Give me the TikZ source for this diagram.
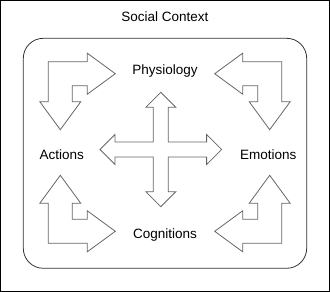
\documentclass[tikz,border=0pt]{standalone}
\usepackage{fontspec}
\setmainfont{Liberation Sans}
\usetikzlibrary{positioning}

\begin{document}
\begin{tikzpicture}[
  x=1pt, y=-1pt,
  lbl/.style={font=\fontsize{13.5}{16}\selectfont, inner sep=0pt},
  shp/.style={draw=black!60, line width=0.8pt, fill=white, line join=miter},
  bent/.pic={
    \draw[shp] (0,0) -- (39,0) -- (39,-8.5) -- (67,12) -- (39,32.5) -- (39,24)
      -- (24,24) -- (24,40) -- (32.5,40) -- (12,68) -- (-8.5,40) -- (0,40) -- cycle;
  }
]
\useasboundingbox (0,0) rectangle (330,292);
\draw[black, line width=1.2pt] (0.6,0.6) rectangle (329.4,291.4);

\node[lbl] (title) at (165,16.7) {Social Context};
\node[draw=black!80, line width=0.8pt, rounded corners=20pt,
      minimum width=283.4pt, minimum height=230pt] (frame) at (165,153.3) {};

% corner arrows
\pic at (48.3,61.7) {bent};
\pic[xscale=-1] at (281.7,61.7) {bent};
\pic[yscale=-1] at (48.3,243.3) {bent};
\pic[xscale=-1, yscale=-1] at (281.7,243.3) {bent};

% cross in the middle
\draw[shp, shift={(160.8,149.5)}]
  (0,-57.2) -- (15,-42.2) -- (7.5,-42.2) -- (7.5,-7.5) -- (45.8,-7.5) -- (45.8,-15)
  -- (60.8,0) -- (45.8,15) -- (45.8,7.5) -- (7.5,7.5) -- (7.5,42.2) -- (15,42.2)
  -- (0,57.2) -- (-15,42.2) -- (-7.5,42.2) -- (-7.5,7.5) -- (-45.8,7.5) -- (-45.8,15)
  -- (-60.8,0) -- (-45.8,-15) -- (-45.8,-7.5) -- (-7.5,-7.5) -- (-7.5,-42.2)
  -- (-15,-42.2) -- cycle;

\node[lbl] (phys) at (165,70.7) {Physiology};
\node[lbl] (act)  at (61.7,155) {Actions};
\node[lbl] (emo)  at (268.3,155) {Emotions};
\node[lbl] (cog)  at (165,235) {Cognitions};
\end{tikzpicture}
\end{document}
